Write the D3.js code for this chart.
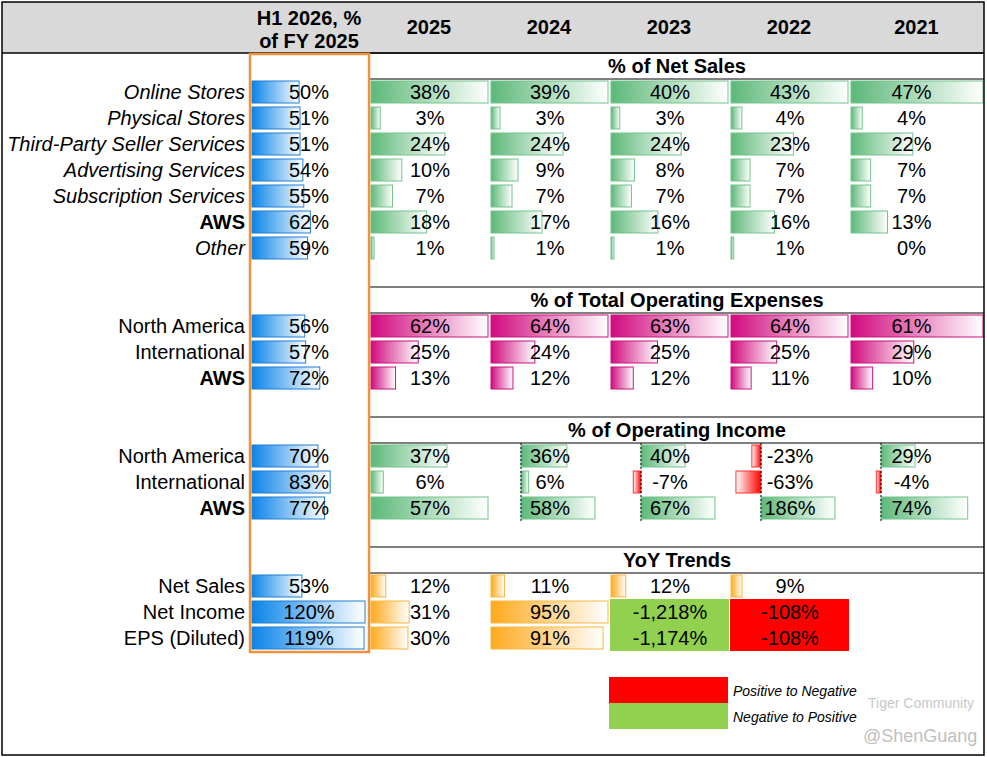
<!DOCTYPE html>
<html><head><meta charset="utf-8">
<script src="https://cdn.jsdelivr.net/npm/d3@7"></script>
<style>body{margin:0;background:#fff}text{font-family:"Liberation Sans",Arial,sans-serif}</style>
</head><body><div id="chart"></div>
<script>
// ---- data ----
var years = ["2025", "2024", "2023", "2022", "2021"];

var segments = ["Online Stores", "Physical Stores", "Third-Party Seller Services", "Advertising Services", "Subscription Services", "AWS", "Other"];
var h1Sales = [50, 51, 51, 54, 55, 62, 59];
var salesPct = [
  [38, 3, 24, 10, 7, 18, 1],
  [39, 3, 24, 9, 7, 17, 1],
  [40, 3, 24, 8, 7, 16, 1],
  [43, 4, 23, 7, 7, 16, 1],
  [47, 4, 22, 7, 7, 13, 0]
];

var regions = ["North America", "International", "AWS"];
var h1Opex = [56, 57, 72];
var opexPct = [[62, 25, 13], [64, 24, 12], [63, 25, 12], [64, 25, 11], [61, 29, 10]];

var h1OpInc = [70, 83, 77];
var opIncPct = [[37, 6, 57], [36, 6, 58], [40, -7, 67], [-23, -63, 186], [29, -4, 74]];

var trends = ["Net Sales", "Net Income", "EPS (Diluted)"];
var h1Yoy = [53, 120, 119];
var yoyPct = [[12, 31, 30], [11, 95, 91], [12, -1218, -1174], [9, -108, -108], [null, null, null]];
// sign-flip flags for the YoY cells
var yoyFlag = [[0, 0, 0], [0, 0, 0], [0, "n2p", "n2p"], [0, "p2n", "p2n"], [0, 0, 0]];

var W = 987, H = 757;
var rowH = 26;
var fs = 20;
var colX = [370, 490, 610, 730, 850];
var colW = [120, 120, 120, 120, 135];
var h1X = 250, h1W = 119;

var svg = d3.select("#chart").append("svg").attr("width", W).attr("height", H);
var defs = svg.append("defs");

function grad(id, c, rev) {
  var g = defs.append("linearGradient").attr("id", id)
    .attr("x1", rev ? "100%" : "0%").attr("x2", rev ? "0%" : "100%");
  g.append("stop").attr("offset", "0%").attr("stop-color", c);
  g.append("stop").attr("offset", "100%").attr("stop-color", "#fff");
}
grad("gBlue", "#0a84e8");
grad("gGreen", "#5cb878");
grad("gPink", "#d10a7e");
grad("gRed", "#ff0000", true);
grad("gOrange", "#ffaa1c");

var border = {gBlue: "#1f7fd4", gGreen: "#74c48c", gPink: "#c8157c", gRed: "#ff3030", gOrange: "#f7b743"};

// header
svg.append("rect").attr("x", 2).attr("y", 2).attr("width", 982).attr("height", 51).attr("fill", "#d9d9d9");
svg.append("text").attr("x", 309).attr("y", 25).attr("text-anchor", "middle").attr("font-size", fs).attr("font-weight", "bold").text("H1 2026, %");
svg.append("text").attr("x", 309).attr("y", 48).attr("text-anchor", "middle").attr("font-size", fs).attr("font-weight", "bold").text("of FY 2025");
years.forEach(function(y, j) {
  svg.append("text").attr("x", colX[j] + colW[j] / 2 - 1).attr("y", 34)
    .attr("text-anchor", "middle").attr("font-size", fs).attr("font-weight", "bold").text(y);
});
svg.append("line").attr("x1", 2).attr("x2", 984).attr("y1", 53).attr("y2", 53).attr("stroke", "#000").attr("stroke-width", 1.5);

var h1Scale = d3.scaleLinear().domain([0, 120]).range([0, 113]).clamp(true);

function bar(x, y, w, gid) {
  if (w <= 0) return;
  svg.append("rect").attr("x", x).attr("y", y).attr("width", w).attr("height", 22)
    .attr("fill", "url(#" + gid + ")").attr("stroke", border[gid]).attr("stroke-width", 1);
}
function val(x, y, t) {
  svg.append("text").attr("x", x).attr("y", y).attr("text-anchor", "middle").attr("font-size", fs).text(t);
}
var fmt = function(v) { return d3.format(",")(v).replace("\u2212", "-") + "%"; };

function section(title, lineTop, labels, styles, h1, cols, gid, kind) {
  var top = lineTop + 26;
  svg.append("line").attr("x1", 370).attr("x2", 984).attr("y1", lineTop).attr("y2", lineTop).attr("stroke", "#000");
  svg.append("line").attr("x1", 370).attr("x2", 984).attr("y1", top).attr("y2", top).attr("stroke", "#000");
  svg.append("text").attr("x", 677).attr("y", lineTop + 20).attr("text-anchor", "middle")
    .attr("font-size", fs).attr("font-weight", "bold").text(title);

  labels.forEach(function(l, i) {
    var yT = top + i * rowH;
    svg.append("text").attr("x", 245).attr("y", yT + 20).attr("text-anchor", "end").attr("font-size", fs)
      .attr("font-style", styles[i] == "i" ? "italic" : "normal")
      .attr("font-weight", styles[i] == "b" ? "bold" : "normal").text(l);
    bar(h1X + 2, yT + 2, h1Scale(h1[i]), "gBlue");
    val(309, yT + 20, fmt(h1[i]));
  });

  cols.forEach(function(vals, j) {
    var x0 = colX[j] + 1, w = colW[j] - 3;
    var cx = colX[j] + colW[j] / 2 - (j == 4 ? 6 : 0);
    if (kind == "plain") {
      var s = d3.scaleLinear().domain([0, d3.max(vals)]).range([0, w]);
      vals.forEach(function(v, i) { bar(x0, top + i * rowH + 2, s(v), gid); val(cx, top + i * rowH + 20, fmt(v)); });
    } else if (kind == "axis") {
      var hasAxis = j > 0;
      var ax = hasAxis ? x0 + 30 : x0;
      var M = d3.max(vals) / (hasAxis ? 0.85 : 1);
      var s2 = d3.scaleLinear().domain([0, M]).range([0, x0 + w - ax]);
      vals.forEach(function(v, i) {
        var yT = top + i * rowH + 2;
        if (v >= 0) bar(ax, yT, s2(v), "gGreen");
        else { var ww = Math.min(s2(-v), ax - x0); bar(ax - ww, yT, ww, "gRed"); }
        val(cx, yT + 18, fmt(v));
      });
      if (hasAxis) svg.append("line").attr("x1", ax).attr("x2", ax).attr("y1", top).attr("y2", top + 3 * rowH)
        .attr("stroke", "#000").attr("stroke-dasharray", "2,2");
    } else {
      var s3 = d3.scaleLinear().domain([0, 95]).range([0, 117]);
      vals.forEach(function(v, i) {
        if (v === null) return;
        var yT = top + i * rowH;
        var f = yoyFlag[j][i];
        if (f) svg.append("rect").attr("x", colX[j]).attr("y", yT).attr("width", colW[j] - 1).attr("height", rowH)
          .attr("fill", f == "p2n" ? "#ff0000" : "#92d050");
        else bar(x0, yT + 2, s3(v), "gOrange");
        val(cx, yT + 20, fmt(v));
      });
    }
  });
}

section("% of Net Sales", 53, segments, ["i", "i", "i", "i", "i", "b", "i"], h1Sales, salesPct, "gGreen", "plain");
section("% of Total Operating Expenses", 287, regions, ["n", "n", "b"], h1Opex, opexPct, "gPink", "plain");
section("% of Operating Income", 417, regions, ["n", "n", "b"], h1OpInc, opIncPct, "gGreen", "axis");
section("YoY Trends", 547, trends, ["n", "n", "n"], h1Yoy, yoyPct, "gOrange", "yoy");

// orange frame around H1 column
svg.append("rect").attr("x", h1X).attr("y", 54).attr("width", h1W).attr("height", 598)
  .attr("fill", "none").attr("stroke", "#f0923c").attr("stroke-width", 2.5);

// legend
var legend = [["Positive to Negative", "#ff0000"], ["Negative to Positive", "#92d050"]];
legend.forEach(function(d, i) {
  svg.append("rect").attr("x", 609).attr("y", 677 + i * 26).attr("width", 119).attr("height", 26).attr("fill", d[1]);
  svg.append("text").attr("x", 733).attr("y", 696 + i * 26).attr("font-size", 14).attr("font-style", "italic").text(d[0]);
});

// watermark
svg.append("text").attr("x", 868).attr("y", 708).attr("font-size", 14).attr("fill", "#c8c8c8").text("Tiger Community");
svg.append("text").attr("x", 863).attr("y", 742).attr("font-size", 18).attr("fill", "#c0c0c0").text("@ShenGuang");

// outer border
svg.append("rect").attr("x", 2).attr("y", 2).attr("width", 982).attr("height", 753)
  .attr("fill", "none").attr("stroke", "#000").attr("stroke-width", 1.5);
</script></body></html>
